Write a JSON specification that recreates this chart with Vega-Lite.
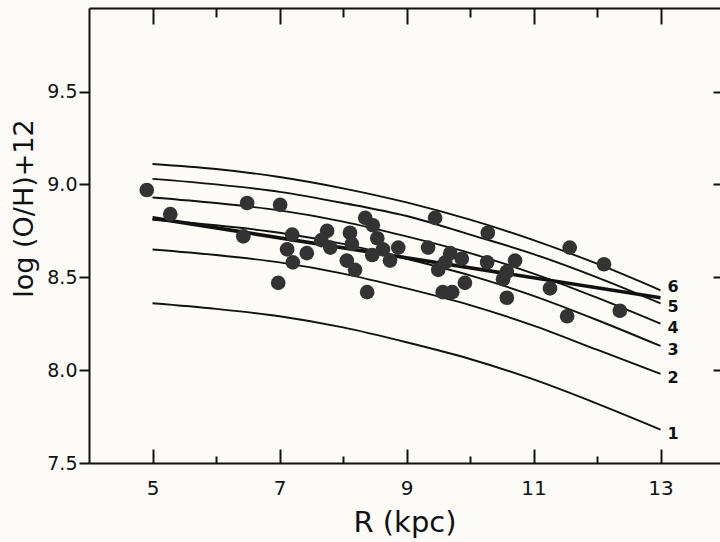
{
  "$schema": "https://vega.github.io/schema/vega-lite/v6.json",
  "autosize": {"type": "none"},
  "padding": {"left": 89, "top": 8, "right": 0, "bottom": 79},
  "width": 631,
  "height": 455,
  "background": "#fcfbf8",
  "config": {
    "view": {"stroke": null},
    "axis": {
      "grid": false,
      "domainColor": "#111111",
      "tickColor": "#111111",
      "labelColor": "#111111",
      "titleColor": "#111111",
      "labelFont": "DejaVu Sans",
      "titleFont": "DejaVu Sans",
      "domainWidth": 2,
      "tickWidth": 2
    }
  },
  "datasets": {
    "curves": [
      {"curve": "6", "R": 5, "v": 9.11}, {"curve": "6", "R": 6, "v": 9.083}, {"curve": "6", "R": 7, "v": 9.04}, {"curve": "6", "R": 8, "v": 8.979}, {"curve": "6", "R": 9, "v": 8.903}, {"curve": "6", "R": 10, "v": 8.81}, {"curve": "6", "R": 11, "v": 8.70}, {"curve": "6", "R": 12, "v": 8.573}, {"curve": "6", "R": 13, "v": 8.43},
      {"curve": "5", "R": 5, "v": 9.03}, {"curve": "5", "R": 6, "v": 9.0}, {"curve": "5", "R": 7, "v": 8.96}, {"curve": "5", "R": 8, "v": 8.90}, {"curve": "5", "R": 9, "v": 8.83}, {"curve": "5", "R": 10, "v": 8.73}, {"curve": "5", "R": 11, "v": 8.625}, {"curve": "5", "R": 12, "v": 8.50}, {"curve": "5", "R": 13, "v": 8.36},
      {"curve": "4", "R": 5, "v": 8.93}, {"curve": "4", "R": 6, "v": 8.90}, {"curve": "4", "R": 7, "v": 8.86}, {"curve": "4", "R": 8, "v": 8.80}, {"curve": "4", "R": 9, "v": 8.72}, {"curve": "4", "R": 10, "v": 8.63}, {"curve": "4", "R": 11, "v": 8.52}, {"curve": "4", "R": 12, "v": 8.39}, {"curve": "4", "R": 13, "v": 8.25},
      {"curve": "3", "R": 5, "v": 8.81}, {"curve": "3", "R": 6, "v": 8.78}, {"curve": "3", "R": 7, "v": 8.74}, {"curve": "3", "R": 8, "v": 8.68}, {"curve": "3", "R": 9, "v": 8.60}, {"curve": "3", "R": 10, "v": 8.51}, {"curve": "3", "R": 11, "v": 8.40}, {"curve": "3", "R": 12, "v": 8.27}, {"curve": "3", "R": 13, "v": 8.13},
      {"curve": "2", "R": 5, "v": 8.65}, {"curve": "2", "R": 6, "v": 8.62}, {"curve": "2", "R": 7, "v": 8.58}, {"curve": "2", "R": 8, "v": 8.52}, {"curve": "2", "R": 9, "v": 8.44}, {"curve": "2", "R": 10, "v": 8.35}, {"curve": "2", "R": 11, "v": 8.24}, {"curve": "2", "R": 12, "v": 8.11}, {"curve": "2", "R": 13, "v": 7.98},
      {"curve": "1", "R": 5, "v": 8.36}, {"curve": "1", "R": 6, "v": 8.33}, {"curve": "1", "R": 7, "v": 8.29}, {"curve": "1", "R": 8, "v": 8.23}, {"curve": "1", "R": 9, "v": 8.15}, {"curve": "1", "R": 10, "v": 8.06}, {"curve": "1", "R": 11, "v": 7.95}, {"curve": "1", "R": 12, "v": 7.82}, {"curve": "1", "R": 13, "v": 7.68}
    ],
    "fit": [
      {"R": 5, "v": 8.82},
      {"R": 13, "v": 8.39}
    ],
    "dots": [
      {"R": 4.91, "v": 8.97}, {"R": 5.28, "v": 8.84}, {"R": 6.49, "v": 8.90}, {"R": 7.01, "v": 8.89},
      {"R": 6.43, "v": 8.72}, {"R": 7.20, "v": 8.73}, {"R": 7.12, "v": 8.65}, {"R": 7.43, "v": 8.63},
      {"R": 7.21, "v": 8.58}, {"R": 6.98, "v": 8.47}, {"R": 7.75, "v": 8.75}, {"R": 7.80, "v": 8.66},
      {"R": 7.66, "v": 8.70}, {"R": 8.11, "v": 8.74}, {"R": 8.14, "v": 8.68}, {"R": 8.06, "v": 8.59},
      {"R": 8.19, "v": 8.54}, {"R": 8.35, "v": 8.82}, {"R": 8.47, "v": 8.78}, {"R": 8.54, "v": 8.71},
      {"R": 8.46, "v": 8.62}, {"R": 8.38, "v": 8.42}, {"R": 8.63, "v": 8.65}, {"R": 8.74, "v": 8.59},
      {"R": 8.87, "v": 8.66}, {"R": 9.34, "v": 8.66}, {"R": 9.45, "v": 8.82}, {"R": 9.50, "v": 8.54},
      {"R": 9.57, "v": 8.42}, {"R": 9.72, "v": 8.42}, {"R": 9.69, "v": 8.63}, {"R": 9.61, "v": 8.58},
      {"R": 9.87, "v": 8.60}, {"R": 9.92, "v": 8.47}, {"R": 10.28, "v": 8.74}, {"R": 10.27, "v": 8.58},
      {"R": 10.71, "v": 8.59}, {"R": 10.58, "v": 8.53}, {"R": 10.52, "v": 8.49}, {"R": 10.58, "v": 8.39},
      {"R": 11.26, "v": 8.44}, {"R": 11.57, "v": 8.66}, {"R": 11.53, "v": 8.29}, {"R": 12.11, "v": 8.57},
      {"R": 12.36, "v": 8.32}
    ]
  },
  "resolve": {"axis": {"x": "independent", "y": "independent"}},
  "layer": [
    {
      "data": {"name": "curves"},
      "mark": {"type": "line", "interpolate": "monotone", "strokeWidth": 1.9, "color": "#111111"},
      "encoding": {
        "x": {
          "field": "R", "type": "quantitative",
          "scale": {"domain": [4, 13.937], "nice": false, "zero": false},
          "axis": {
            "orient": "bottom",
            "values": [5, 6, 7, 8, 9, 10, 11, 12, 13],
            "labelExpr": "datum.value % 2 == 1 ? datum.label : ''",
            "tickSize": {"condition": {"test": "datum.value % 2 == 1", "value": -14}, "value": -7},
            "labelFontSize": 20,
            "labelPadding": 29,
            "title": "R (kpc)",
            "titleFontSize": 29,
            "titleFontWeight": "normal",
            "titlePadding": 10
          }
        },
        "y": {
          "field": "v", "type": "quantitative",
          "scale": {"domain": [7.5, 9.95], "nice": false, "zero": false},
          "axis": {
            "orient": "left",
            "values": [7.5, 8, 8.5, 9, 9.5],
            "format": ".1f",
            "tickSize": 10,
            "labelFontSize": 19,
            "labelPadding": 2,
            "title": "log (O/H)+12",
            "titleFontSize": 27,
            "titleFontWeight": "normal",
            "titlePadding": 8,
            "titleY": 200
          }
        },
        "detail": {"field": "curve"}
      }
    },
    {
      "data": {"name": "fit"},
      "mark": {"type": "line", "strokeWidth": 3.6, "color": "#111111"},
      "encoding": {
        "x": {
          "field": "R", "type": "quantitative",
          "axis": {
            "orient": "top",
            "values": [5, 6, 7, 8, 9, 10, 11, 12, 13],
            "labels": false,
            "title": null,
            "tickSize": {"condition": {"test": "datum.value % 2 == 1", "value": -16}, "value": -9}
          }
        },
        "y": {
          "field": "v", "type": "quantitative",
          "axis": {
            "orient": "right",
            "values": [8, 8.5, 9, 9.5],
            "labels": false,
            "title": null,
            "domain": false,
            "tickSize": -7
          }
        }
      }
    },
    {
      "data": {"name": "dots"},
      "mark": {"type": "circle", "size": 215, "color": "#333333", "opacity": 1},
      "encoding": {
        "x": {"field": "R", "type": "quantitative", "axis": null},
        "y": {"field": "v", "type": "quantitative", "axis": null}
      }
    },
    {
      "data": {"name": "curves"},
      "transform": [{"filter": "datum.R == 13 && datum.curve == '6'"}],
      "mark": {"type": "text", "align": "left", "baseline": "middle", "dx": 7, "dy": -3, "fontSize": 16, "fontWeight": "bold", "font": "DejaVu Sans", "color": "#111111"},
      "encoding": {
        "x": {"field": "R", "type": "quantitative", "axis": null},
        "y": {"field": "v", "type": "quantitative", "axis": null},
        "text": {"field": "curve"}
      }
    },
    {
      "data": {"name": "curves"},
      "transform": [{"filter": "datum.R == 13 && datum.curve != '6'"}],
      "mark": {"type": "text", "align": "left", "baseline": "middle", "dx": 7, "dy": 4, "fontSize": 16, "fontWeight": "bold", "font": "DejaVu Sans", "color": "#111111"},
      "encoding": {
        "x": {"field": "R", "type": "quantitative", "axis": null},
        "y": {"field": "v", "type": "quantitative", "axis": null},
        "text": {"field": "curve"}
      }
    }
  ]
}
